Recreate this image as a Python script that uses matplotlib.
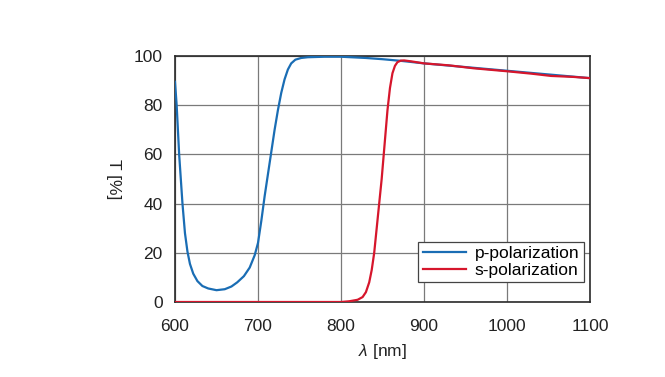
import matplotlib
matplotlib.use("Agg")
from matplotlib import pyplot as plt

# p-polarization
p_wl = [600, 602, 605, 609, 612, 615, 618, 622, 627, 633, 640, 650, 660, 668,
        675, 683, 690, 696, 700, 704, 708, 712, 716, 720, 724, 728, 732, 736,
        740, 745, 752, 760, 780, 800, 830, 850, 873, 900, 950, 1000, 1050, 1100]
p_T = [89.5, 80, 60, 40, 28, 20.5, 15.5, 11.5, 8.5, 6.5, 5.5, 4.8, 5.2, 6.3,
       8, 10.5, 14, 19, 24, 33, 43, 52, 61, 70, 78, 85, 90.5, 94.5,
       97, 98.5, 99.2, 99.5, 99.7, 99.7, 99.2, 98.7, 98, 97, 95.5, 94, 92.5, 91]

# s-polarization
s_wl = [600, 700, 800, 810, 820, 826, 830, 834, 837, 840, 843, 846, 849, 851,
        854, 856, 859, 862, 865, 868, 872, 876, 885, 900, 930, 960, 1000,
        1030, 1053, 1080, 1100]
s_T = [0, 0, 0, 0.3, 0.9, 2, 4, 8, 13, 20, 30, 40, 50, 58,
       70, 78, 87, 93, 96, 97.5, 98.1, 98.2, 97.8, 97, 96.2, 95, 93.8,
       92.8, 91.9, 91.5, 91]

x_ticks = [600, 700, 800, 900, 1000, 1100]
y_ticks = [0, 20, 40, 60, 80, 100]

plt.rcParams['font.family'] = ['Liberation Sans', 'DejaVu Sans']
plt.rcParams['mathtext.fontset'] = 'custom'
plt.rcParams['mathtext.it'] = 'Liberation Sans:italic'
plt.rcParams['mathtext.rm'] = 'Liberation Sans'

fig = plt.figure(figsize=(6.65, 3.77), dpi=100)
ax = fig.add_axes([175 / 665, 1 - 302 / 377, (590 - 175) / 665, (302 - 56) / 377])

ax.plot(p_wl, p_T, color='#1a6db4', lw=1.6, label='p-polarization', zorder=3)
ax.plot(s_wl, s_T, color='#d6162c', lw=1.6, label='s-polarization', zorder=3)

ax.set_xlim(600, 1100)
ax.set_ylim(0, 100)
ax.set_xticks(x_ticks)
ax.set_yticks(y_ticks)
ax.grid(True, color='#7a7a7a', lw=0.9)
ax.set_axisbelow(True)
ax.tick_params(axis='x', length=0, labelsize=12.5, colors='#222222', pad=12)
ax.tick_params(axis='y', length=0, labelsize=12.5, colors='#222222', pad=9)
for s in ax.spines.values():
    s.set_color('#2a2a2a')
    s.set_linewidth(1.2)

ax.set_xlabel(r'$\lambda$ [nm]', fontsize=12.5, color='#222222', labelpad=6)
ax.set_ylabel('T [%]', fontsize=12.5, color='#222222', rotation=-90, labelpad=20)

leg = ax.legend(loc='lower right', bbox_to_anchor=(0.985, 0.08), fontsize=12.5,
                frameon=True, fancybox=False, borderpad=0.25, handlelength=2.5,
                handletextpad=0.5, labelspacing=0.1, borderaxespad=0)
leg.get_frame().set_edgecolor('#444444')
leg.get_frame().set_linewidth(0.9)
leg.get_frame().set_alpha(1)

fig.savefig('out.png', dpi=100)
